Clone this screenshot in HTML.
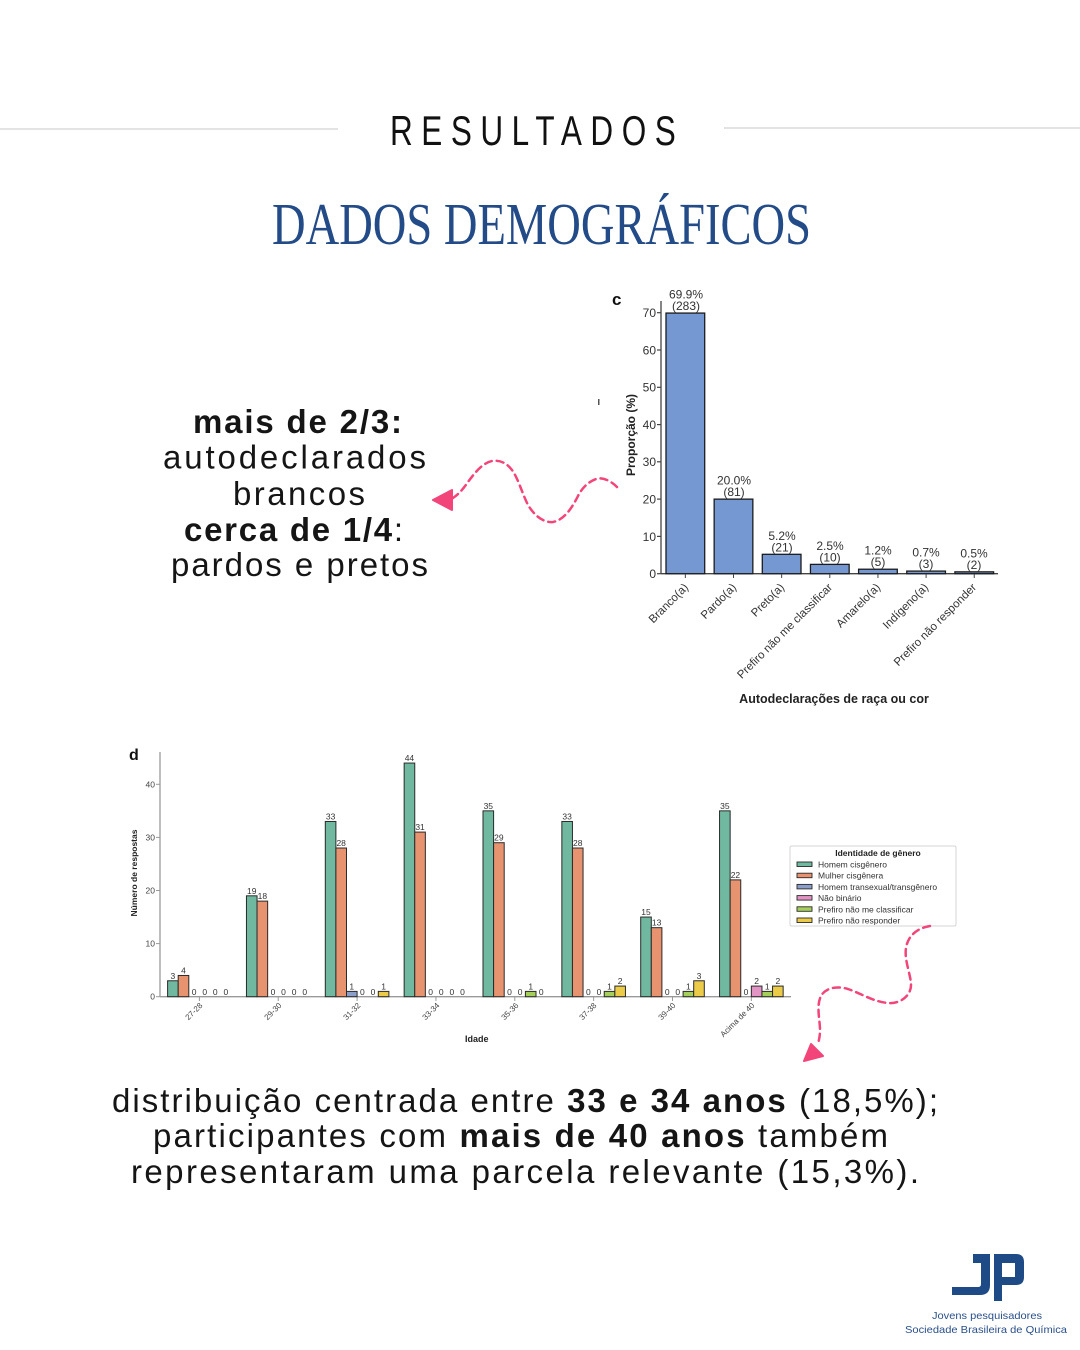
<!DOCTYPE html>
<html>
<head>
<meta charset="utf-8">
<style>
  html,body{margin:0;padding:0;background:#fff;}
  svg{display:block;}
  .sans{font-family:"Liberation Sans", "DejaVu Sans", sans-serif;}
  .serif{font-family:"Liberation Serif", serif;}
</style>
</head>
<body>
<svg width="1080" height="1350" viewBox="0 0 1080 1350" xmlns="http://www.w3.org/2000/svg">
  <rect x="0" y="0" width="1080" height="1350" fill="#ffffff"/>

  <!-- Header -->
  <line x1="0" y1="129" x2="338" y2="129" stroke="#e3e3e3" stroke-width="2"/>
  <line x1="724" y1="128" x2="1080" y2="128" stroke="#e3e3e3" stroke-width="2"/>
  <text class="sans" transform="translate(390,145) scale(0.75,1)" font-size="42" fill="#111" textLength="381" lengthAdjust="spacing">RESULTADOS</text>
  <text class="serif" x="272" y="244" font-size="59" fill="#234b87" textLength="539" lengthAdjust="spacingAndGlyphs">DADOS DEMOGRÁFICOS</text>

  <!-- Left text block -->
  <g class="sans" font-size="33" fill="#151515">
    <text x="193" y="433" font-weight="bold" textLength="209" lengthAdjust="spacing">mais de 2/3:</text>
    <text x="163" y="468.5" textLength="263" lengthAdjust="spacing">autodeclarados</text>
    <text x="233" y="505" textLength="132" lengthAdjust="spacing">brancos</text>
    <text x="184" y="541" textLength="219" lengthAdjust="spacing"><tspan font-weight="bold">cerca de 1/4</tspan>:</text>
    <text x="171" y="576" textLength="257" lengthAdjust="spacing">pardos e pretos</text>
  </g>

  <!-- Arrow 1 -->
  <path d="M617,487 C610,480 602,477 596,479 C588,482 582,488 578,496 C572,508 564,520 553,522 C543,523 534,515 528,505 C522,493 518,478 512,470 C506,462 499,460 492,461 C482,463 474,474 468,482 C463,489 459,494 453,498" fill="none" stroke="#f2457a" stroke-width="2.5" stroke-dasharray="7 5" stroke-linecap="round"/>
  <polygon points="433,500 452,490 452,510" fill="#f2457a" stroke="#f2457a" stroke-width="2" stroke-linejoin="round"/>

  <!-- Chart c -->
  <g class="sans">
    <text x="612" y="305" font-size="17" font-weight="bold" fill="#111">c</text>
    <rect x="598" y="399" width="1.5" height="6" fill="#555"/>
    <!-- y axis -->
    <line x1="661" y1="301" x2="661" y2="574" stroke="#444" stroke-width="1.3"/>
    <line x1="661" y1="573.7" x2="998" y2="573.7" stroke="#444" stroke-width="1.3"/>
    <g stroke="#444" stroke-width="1.2">
      <line x1="657" y1="573.7" x2="661" y2="573.7"/>
      <line x1="657" y1="536.4" x2="661" y2="536.4"/>
      <line x1="657" y1="499.1" x2="661" y2="499.1"/>
      <line x1="657" y1="461.8" x2="661" y2="461.8"/>
      <line x1="657" y1="424.6" x2="661" y2="424.6"/>
      <line x1="657" y1="387.3" x2="661" y2="387.3"/>
      <line x1="657" y1="350.0" x2="661" y2="350.0"/>
      <line x1="657" y1="312.7" x2="661" y2="312.7"/>
    </g>
    <g font-size="12" fill="#333" text-anchor="end">
      <text x="656" y="578">0</text>
      <text x="656" y="540.8">10</text>
      <text x="656" y="503.5">20</text>
      <text x="656" y="466.2">30</text>
      <text x="656" y="429">40</text>
      <text x="656" y="391.7">50</text>
      <text x="656" y="354.4">60</text>
      <text x="656" y="317.1">70</text>
    </g>
    <text transform="translate(635,435) rotate(-90)" font-size="12" font-weight="bold" fill="#222" text-anchor="middle">Proporção (%)</text>

    <!-- bars -->
    <g fill="#7698d2" stroke="#1c1c1c" stroke-width="1.3">
      <rect x="666" y="313.07" width="38.7" height="260.63"/>
      <rect x="714.15" y="499.13" width="38.7" height="74.57"/>
      <rect x="762.3" y="554.31" width="38.7" height="19.39"/>
      <rect x="810.45" y="564.38" width="38.7" height="9.32"/>
      <rect x="858.6" y="569.23" width="38.7" height="4.47"/>
      <rect x="906.75" y="571.09" width="38.7" height="2.61"/>
      <rect x="954.9" y="571.84" width="38.7" height="1.86"/>
    </g>
    <g stroke="#444" stroke-width="1">
      <line x1="685.35" y1="574" x2="685.35" y2="578"/>
      <line x1="733.5" y1="574" x2="733.5" y2="578"/>
      <line x1="781.65" y1="574" x2="781.65" y2="578"/>
      <line x1="829.8" y1="574" x2="829.8" y2="578"/>
      <line x1="877.95" y1="574" x2="877.95" y2="578"/>
      <line x1="926.1" y1="574" x2="926.1" y2="578"/>
      <line x1="974.25" y1="574" x2="974.25" y2="578"/>
    </g>
    <g font-size="12" fill="#333" text-anchor="middle">
      <text x="686" y="298.6">69.9%</text><text x="686" y="310">(283)</text>
      <text x="734" y="484.6">20.0%</text><text x="734" y="496.1">(81)</text>
      <text x="782" y="539.8">5.2%</text><text x="782" y="551.3">(21)</text>
      <text x="830" y="549.9">2.5%</text><text x="830" y="561.4">(10)</text>
      <text x="878" y="554.7">1.2%</text><text x="878" y="566.2">(5)</text>
      <text x="926" y="556.6">0.7%</text><text x="926" y="568.1">(3)</text>
      <text x="974" y="557.3">0.5%</text><text x="974" y="568.8">(2)</text>
    </g>
    <g font-size="11.5" fill="#333" text-anchor="end">
      <text transform="translate(689,588) rotate(-45)">Branco(a)</text>
      <text transform="translate(737,588) rotate(-45)">Pardo(a)</text>
      <text transform="translate(785,588) rotate(-45)">Preto(a)</text>
      <text transform="translate(833,588) rotate(-45)">Prefiro não me classificar</text>
      <text transform="translate(881,588) rotate(-45)">Amarelo(a)</text>
      <text transform="translate(929,588) rotate(-45)">Indígeno(a)</text>
      <text transform="translate(977,588) rotate(-45)">Prefiro não responder</text>
    </g>
    <text x="834" y="703" font-size="12.5" font-weight="bold" fill="#222" text-anchor="middle">Autodeclarações de raça ou cor</text>
  </g>

  <!-- Chart d -->
  <g class="sans">
    <text x="129" y="760" font-size="16" font-weight="bold" fill="#111">d</text>
    <line x1="160" y1="752" x2="160" y2="997" stroke="#9a9a9a" stroke-width="1.3"/>
    <line x1="160" y1="996.7" x2="791" y2="996.7" stroke="#9a9a9a" stroke-width="1.3"/>
    <g stroke="#9a9a9a" stroke-width="1">
      <line x1="156" y1="996.7" x2="160" y2="996.7"/>
      <line x1="156" y1="943.6" x2="160" y2="943.6"/>
      <line x1="156" y1="890.5" x2="160" y2="890.5"/>
      <line x1="156" y1="837.4" x2="160" y2="837.4"/>
      <line x1="156" y1="784.3" x2="160" y2="784.3"/>
      <line x1="199.4" y1="997" x2="199.4" y2="1001"/>
      <line x1="278.25" y1="997" x2="278.25" y2="1001"/>
      <line x1="357.1" y1="997" x2="357.1" y2="1001"/>
      <line x1="435.95" y1="997" x2="435.95" y2="1001"/>
      <line x1="514.8" y1="997" x2="514.8" y2="1001"/>
      <line x1="593.65" y1="997" x2="593.65" y2="1001"/>
      <line x1="672.5" y1="997" x2="672.5" y2="1001"/>
      <line x1="751.35" y1="997" x2="751.35" y2="1001"/>
    </g>
    <g font-size="8.5" fill="#444" text-anchor="end">
      <text x="155" y="999.7">0</text>
      <text x="155" y="946.6">10</text>
      <text x="155" y="893.5">20</text>
      <text x="155" y="840.4">30</text>
      <text x="155" y="787.3">40</text>
    </g>
    <text transform="translate(137,873) rotate(-90)" font-size="8.5" font-weight="bold" fill="#222" text-anchor="middle">Número de respostas</text>

    <!-- bars -->
    <g stroke="#2a2a2a" stroke-width="1">
      <!-- green -->
      <g fill="#70b9a0">
        <rect x="167.6" y="980.77" width="10.6" height="15.93"/>
        <rect x="246.45" y="895.81" width="10.6" height="100.89"/>
        <rect x="325.3" y="821.47" width="10.6" height="175.23"/>
        <rect x="404.15" y="763.06" width="10.6" height="233.64"/>
        <rect x="483.0" y="810.85" width="10.6" height="185.85"/>
        <rect x="561.85" y="821.47" width="10.6" height="175.23"/>
        <rect x="640.7" y="917.05" width="10.6" height="79.65"/>
        <rect x="719.55" y="810.85" width="10.6" height="185.85"/>
      </g>
      <!-- orange -->
      <g fill="#e8936f">
        <rect x="178.2" y="975.46" width="10.6" height="21.24"/>
        <rect x="257.05" y="901.12" width="10.6" height="95.58"/>
        <rect x="335.9" y="848.02" width="10.6" height="148.68"/>
        <rect x="414.75" y="832.09" width="10.6" height="164.61"/>
        <rect x="493.6" y="842.71" width="10.6" height="153.99"/>
        <rect x="572.45" y="848.02" width="10.6" height="148.68"/>
        <rect x="651.3" y="927.67" width="10.6" height="69.03"/>
        <rect x="730.15" y="879.88" width="10.6" height="116.82"/>
      </g>
      <!-- blue -->
      <rect x="346.5" y="991.39" width="10.6" height="5.31" fill="#8c9fca"/>
      <!-- pink -->
      <rect x="751.35" y="986.08" width="10.6" height="10.62" fill="#e295c5"/>
      <!-- lime -->
      <g fill="#a5cf5a">
        <rect x="525.4" y="991.39" width="10.6" height="5.31"/>
        <rect x="604.25" y="991.39" width="10.6" height="5.31"/>
        <rect x="683.1" y="991.39" width="10.6" height="5.31"/>
        <rect x="761.95" y="991.39" width="10.6" height="5.31"/>
      </g>
      <!-- yellow -->
      <g fill="#ebcb48">
        <rect x="378.3" y="991.39" width="10.6" height="5.31"/>
        <rect x="614.85" y="986.08" width="10.6" height="10.62"/>
        <rect x="693.7" y="980.77" width="10.6" height="15.93"/>
        <rect x="772.55" y="986.08" width="10.6" height="10.62"/>
      </g>
    </g>

    <!-- value labels -->
    <g font-size="8.5" fill="#333" text-anchor="middle">
      <text x="172.9" y="978.8">3</text><text x="183.5" y="973.5">4</text>
      <text x="194.1" y="995">0</text><text x="204.7" y="995">0</text><text x="215.3" y="995">0</text><text x="225.9" y="995">0</text>

      <text x="251.75" y="893.8">19</text><text x="262.35" y="899.1">18</text>
      <text x="272.95" y="995">0</text><text x="283.55" y="995">0</text><text x="294.15" y="995">0</text><text x="304.75" y="995">0</text>

      <text x="330.6" y="819.5">33</text><text x="341.2" y="846">28</text>
      <text x="351.8" y="989.4">1</text><text x="362.4" y="995">0</text><text x="373.0" y="995">0</text><text x="383.6" y="989.4">1</text>

      <text x="409.45" y="761">44</text><text x="420.05" y="830">31</text>
      <text x="430.65" y="995">0</text><text x="441.25" y="995">0</text><text x="451.85" y="995">0</text><text x="462.45" y="995">0</text>

      <text x="488.3" y="808.9">35</text><text x="498.9" y="840.7">29</text>
      <text x="509.5" y="995">0</text><text x="520.1" y="995">0</text><text x="530.7" y="989.4">1</text><text x="541.3" y="995">0</text>

      <text x="567.15" y="819.5">33</text><text x="577.75" y="846">28</text>
      <text x="588.35" y="995">0</text><text x="598.95" y="995">0</text><text x="609.55" y="989.4">1</text><text x="620.15" y="984">2</text>

      <text x="646.0" y="915">15</text><text x="656.6" y="925.7">13</text>
      <text x="667.2" y="995">0</text><text x="677.8" y="995">0</text><text x="688.4" y="989.4">1</text><text x="699.0" y="978.8">3</text>

      <text x="724.85" y="808.9">35</text><text x="735.45" y="877.9">22</text>
      <text x="746.05" y="995">0</text><text x="756.65" y="984">2</text><text x="767.25" y="989.4">1</text><text x="777.85" y="984">2</text>
    </g>

    <!-- x labels -->
    <g font-size="8" fill="#444" text-anchor="end">
      <text transform="translate(203,1006) rotate(-45)">27-28</text>
      <text transform="translate(282,1006) rotate(-45)">29-30</text>
      <text transform="translate(361,1006) rotate(-45)">31-32</text>
      <text transform="translate(440,1006) rotate(-45)">33-34</text>
      <text transform="translate(519,1006) rotate(-45)">35-36</text>
      <text transform="translate(597,1006) rotate(-45)">37-38</text>
      <text transform="translate(676,1006) rotate(-45)">39-40</text>
      <text transform="translate(755,1006) rotate(-45)">Acima de 40</text>
    </g>
    <text x="465" y="1042" font-size="9" font-weight="bold" fill="#222">Idade</text>

    <!-- legend -->
    <rect x="790" y="846" width="166" height="80" fill="#fff" stroke="#d6d6d6" stroke-width="1" rx="1.5"/>
    <text x="878" y="856" font-size="8.5" font-weight="bold" fill="#222" text-anchor="middle">Identidade de gênero</text>
    <g stroke="#2a2a2a" stroke-width="0.9">
      <rect x="797" y="862" width="15" height="4.5" fill="#70b9a0"/>
      <rect x="797" y="873.2" width="15" height="4.5" fill="#e8936f"/>
      <rect x="797" y="884.4" width="15" height="4.5" fill="#8c9fca"/>
      <rect x="797" y="895.6" width="15" height="4.5" fill="#e295c5"/>
      <rect x="797" y="906.8" width="15" height="4.5" fill="#a5cf5a"/>
      <rect x="797" y="918" width="15" height="4.5" fill="#ebcb48"/>
    </g>
    <g font-size="8.5" fill="#333">
      <text x="818" y="867.5">Homem cisgênero</text>
      <text x="818" y="878.7">Mulher cisgênera</text>
      <text x="818" y="889.9">Homem transexual/transgênero</text>
      <text x="818" y="901.1">Não binário</text>
      <text x="818" y="912.3">Prefiro não me classificar</text>
      <text x="818" y="923.5">Prefiro não responder</text>
    </g>
  </g>

  <!-- Arrow 2 -->
  <path d="M930,926 C918,928 908,935 906,948 C904,960 911,975 911,985 C911,996 900,1004 888,1003 C874,1002 860,993 848,989 C838,986 826,987 821,996 C816,1006 820,1020 820,1030 C820,1036 819,1040 818,1044" fill="none" stroke="#f2457a" stroke-width="2.5" stroke-dasharray="7 5" stroke-linecap="round"/>
  <polygon points="804,1061 811,1044 823,1056" fill="#f2457a" stroke="#f2457a" stroke-width="2" stroke-linejoin="round"/>

  <!-- Bottom text -->
  <g class="sans" font-size="33" fill="#151515">
    <text x="112" y="1112" textLength="826" lengthAdjust="spacing">distribuição centrada entre <tspan font-weight="bold">33 e 34 anos</tspan> (18,5%);</text>
    <text x="153" y="1147" textLength="735" lengthAdjust="spacing">participantes com <tspan font-weight="bold">mais de 40 anos</tspan> também</text>
    <text x="131" y="1183" textLength="788" lengthAdjust="spacing">representaram uma parcela relevante (15,3%).</text>
  </g>

  <!-- Logo -->
  <g fill="#1e4a86">
    <path d="M973,1254 H990 V1285 Q990,1295 980,1295 H952 V1287 H978 Q981,1287 981,1284 V1263 H973 Z"/>
    <path fill-rule="evenodd" d="M994,1254 H1016 Q1024,1254 1024,1262 V1277 Q1024,1285 1016,1285 H1002 V1301 H994 Z M1002,1263 H1015 V1277 H1002 Z"/>
  </g>
  <g class="sans" font-size="10.5" fill="#2a4f8a">
    <text x="932" y="1319" textLength="110" lengthAdjust="spacingAndGlyphs">Jovens pesquisadores</text>
    <text x="905" y="1333" textLength="162" lengthAdjust="spacingAndGlyphs">Sociedade Brasileira de Química</text>
  </g>
</svg>
</body>
</html>
